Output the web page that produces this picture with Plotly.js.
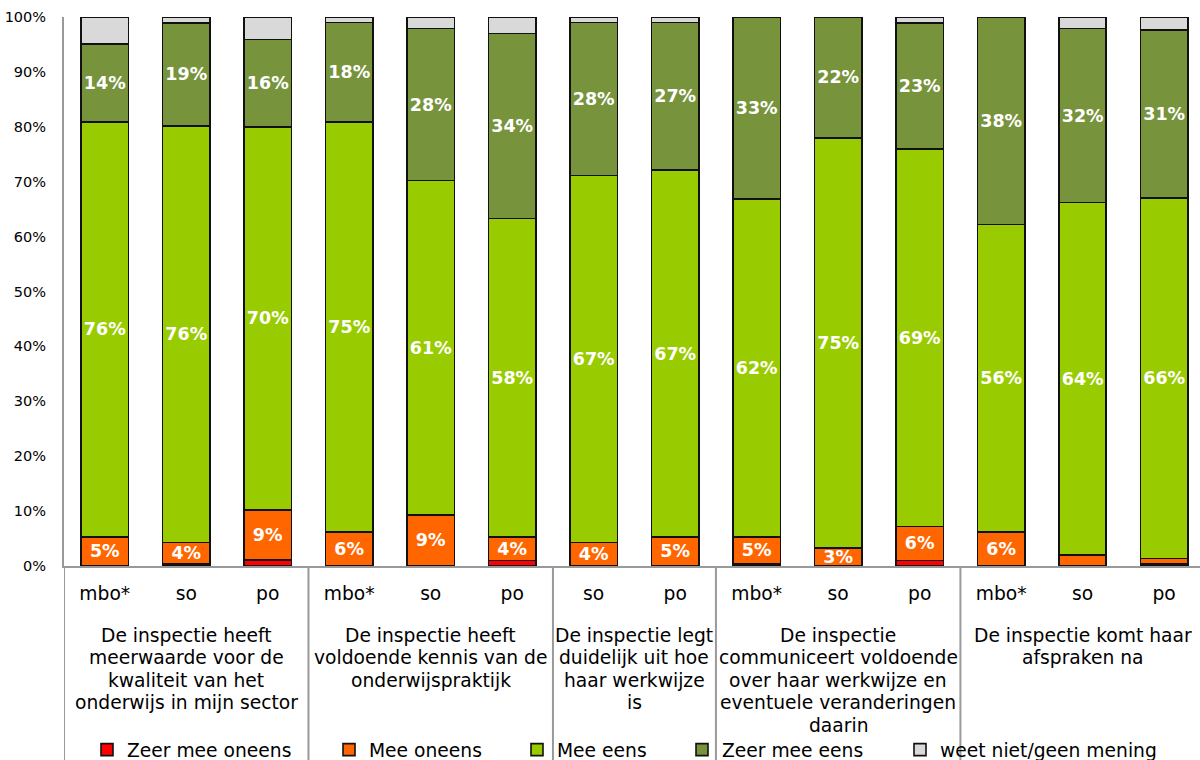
<!DOCTYPE html>
<html>
<head>
<meta charset="utf-8">
<script src="https://cdn.plot.ly/plotly-3.0.1.min.js"></script>
<style>html,body{margin:0;padding:0;background:#fff;}#chart{width:1200px;height:760px;}</style>
</head>
<body>
<div id="chart"></div>
<script>
// Statements (groups), one entry per line of the wrapped label
const groupLabels = [
  ["De inspectie heeft", "meerwaarde voor de", "kwaliteit van het", "onderwijs in mijn sector"],
  ["De inspectie heeft", "voldoende kennis van de", "onderwijspraktijk"],
  ["De inspectie legt", "duidelijk uit hoe", "haar werkwijze", "is"],
  ["De inspectie", "communiceert voldoende", "over haar werkwijze en", "eventuele veranderingen", "daarin"],
  ["De inspectie komt haar", "afspraken na"]
];
// which statement each bar belongs to
const barGroup = [0,0,0, 1,1,1, 2,2, 3,3,3, 4,4,4];
// sector of each bar (tick labels)
const barSector = ["mbo*","so","po", "mbo*","so","po", "so","po", "mbo*","so","po", "mbo*","so","po"];

// Series values (percent)
const zeerMeeOneens = [0, 0.4, 1.1, 0, 0, 1.0, 0, 0, 0.4, 0, 1.0, 0, 0, 0.4];
const meeOneens     = [5.3, 3.9, 9.1, 6.2, 9.3, 4.3, 4.3, 5.3, 4.9, 3.3, 6.2, 6.2, 2.0, 1.0];
const meeEens       = [75.6, 75.9, 69.8, 74.7, 60.9, 58.0, 66.8, 66.8, 61.6, 74.7, 68.8, 56.0, 64.2, 65.6];
const zeerMeeEens   = [14.2, 18.7, 15.9, 18.1, 27.7, 33.7, 27.9, 26.9, 33.1, 22.0, 22.9, 37.8, 31.7, 30.6];
const weetNiet      = [4.9, 1.1, 4.1, 1.0, 2.1, 3.0, 1.0, 1.0, 0, 0, 1.1, 0, 2.1, 2.4];

const seriesNames = ["Zeer mee oneens", "Mee oneens", "Mee eens", "Zeer mee eens", "weet niet/geen mening"];
const seriesColors = ["#FF0000", "#FF6600", "#99CC00", "#77933C", "#D9D9D9"];
const seriesLabeled = [false, true, true, true, false];
const seriesValues = [zeerMeeOneens, meeOneens, meeEens, zeerMeeEens, weetNiet];

const FONT = "DejaVu Sans, Verdana, sans-serif";
const TXT = 18.7;
const xIdx = barSector.map((_, i) => i);
const legendIds = ["legend", "legend2", "legend3", "legend4", "legend5"];
const legendX = [87, 329, 517, 682, 900];   // left edge of each legend entry, px

const traces = seriesValues.map((vals, s) => ({
  type: "bar",
  name: seriesNames[s],
  legend: legendIds[s],
  x: xIdx,
  y: vals,
  marker: { color: seriesColors[s], line: { color: "#111", width: 1.6 } },
  text: seriesLabeled[s] ? vals.map(v => v >= 2.5 ? Math.round(v) + "%" : "") : vals.map(() => ""),
  textposition: "inside",
  insidetextanchor: "middle",
  textangle: 0,
  constraintext: "none",
  textfont: { family: FONT, size: 17.5, color: "#ffffff", weight: "bold" },
  cliponaxis: true,
  hoverinfo: "skip"
}));

// group boundaries and centred, line-by-line labels, derived from barGroup
const PLOT_H = 549;
const shapes = [];
const annotations = [];
groupLabels.forEach((lines, g) => {
  const members = xIdx.filter(i => barGroup[i] === g);
  const first = Math.min(...members), last = Math.max(...members);
  shapes.push({
    type: "line", xref: "x", yref: "paper",
    x0: first - 0.5, x1: first - 0.5, y0: 0, y1: -0.365,
    line: { color: "#999999", width: 2 }
  });
  lines.forEach((ln, k) => {
    annotations.push({
      xref: "x", yref: "paper",
      x: (first + last) / 2, y: -(69 + 22.5 * k) / PLOT_H,
      xanchor: "center", yanchor: "middle",
      text: ln, showarrow: false, align: "center",
      font: { family: FONT, size: TXT, color: "#000" }
    });
  });
});

const layout = {
  width: 1200,
  height: 760,
  margin: { l: 64, r: 0, t: 17, b: 194, pad: 0 },
  barmode: "stack",
  bargap: 0.42,
  paper_bgcolor: "#ffffff",
  plot_bgcolor: "#ffffff",
  font: { family: FONT, size: TXT, color: "#000" },
  showlegend: true,
  shapes: shapes,
  annotations: annotations,
  xaxis: {
    range: [-0.5, 13.44],
    tickvals: xIdx,
    ticktext: barSector,
    showline: true,
    linecolor: "#999999",
    linewidth: 2,
    showgrid: false,
    zeroline: false,
    ticks: "",
    tickfont: { family: FONT, size: TXT, color: "#000" },
    ticklabelstandoff: 10,
    automargin: false,
    fixedrange: true
  },
  yaxis: {
    range: [0, 100],
    dtick: 10,
    ticksuffix: "%",
    showline: true,
    linecolor: "#999999",
    linewidth: 2,
    showgrid: false,
    zeroline: false,
    ticks: "",
    tickfont: { family: FONT, size: 14.5, color: "#000" },
    ticklabelstandoff: 13,
    automargin: false,
    fixedrange: true
  }
};
legendIds.forEach((id, s) => {
  layout[id] = {
    orientation: "h",
    xref: "container", yref: "container",
    x: legendX[s] / 1200, xanchor: "left",
    y: 10 / 760, yanchor: "middle",
    font: { family: FONT, size: TXT, color: "#000" },
    bgcolor: "rgba(0,0,0,0)",
    itemclick: false
  };
});

Plotly.newPlot("chart", traces, layout, { staticPlot: true, displayModeBar: false });
</script>
</body>
</html>
